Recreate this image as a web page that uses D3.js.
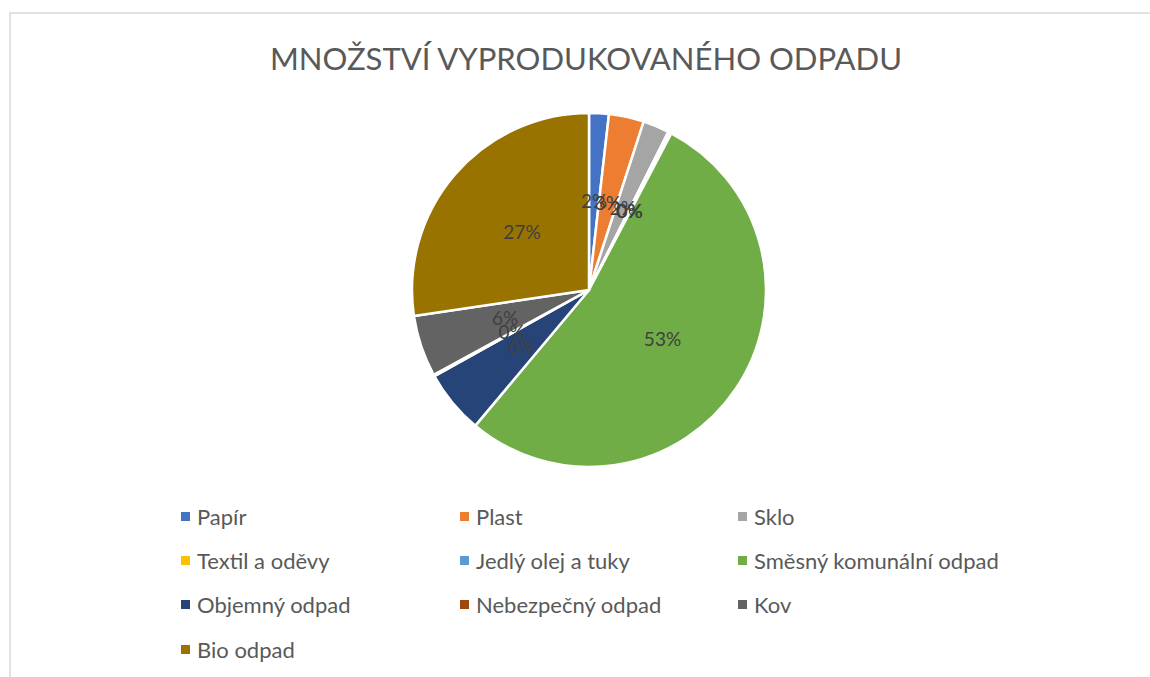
<!DOCTYPE html>
<html>
<head>
<meta charset="utf-8">
<script src="https://cdn.jsdelivr.net/npm/d3@7"></script>
<style>
  html, body { margin: 0; padding: 0; background: #fff; }
  svg { display: block; font-family: Lato, "Open Sans", sans-serif; }
</style>
</head>
<body>
<div id="chart"></div>
<script>
const width = 1150;
const height = 677;

const title = 'MNOŽSTVÍ VYPRODUKOVANÉHO ODPADU';
const categories = ['Papír', 'Plast', 'Sklo', 'Textil a oděvy', 'Jedlý olej a tuky',
    'Směsný komunální odpad', 'Objemný odpad', 'Nebezpečný odpad', 'Kov', 'Bio odpad'];
const values = [1.8, 3.2, 2.4, 0.15, 0.15, 53.4, 5.8, 0.15, 5.6, 27.35];
const colors = ['#4472C4', '#ED7D31', '#A5A5A5', '#FFC000', '#5B9BD5',
    '#70AD47', '#264478', '#9E480E', '#636363', '#997300'];

const data = categories.map((name, i) => ({ name, value: values[i], color: colors[i] }));
const total = d3.sum(values);

const svg = d3.select('#chart').append('svg')
    .attr('width', width)
    .attr('height', height);

// chart frame (runs off the right and bottom edge)
svg.append('rect')
    .attr('x', 10)
    .attr('y', 13)
    .attr('width', width + 20)
    .attr('height', height + 20)
    .attr('fill', 'none')
    .attr('stroke', '#d9d9d9')
    .attr('stroke-width', 1.5);

svg.append('text')
    .attr('x', 586)
    .attr('y', 70)
    .attr('text-anchor', 'middle')
    .attr('font-size', '31px')
    .attr('fill', '#595959')
    .attr('textLength', 632)
    .attr('lengthAdjust', 'spacingAndGlyphs')
    .text(title);

const cx = 589;
const cy = 290;
const radius = 177;

const pie = d3.pie().sort(null).value(d => d.value);
const arc = d3.arc().innerRadius(0).outerRadius(radius);
const labelArc = d3.arc().innerRadius(radius * 0.5).outerRadius(radius * 0.5);

const g = svg.append('g').attr('transform', `translate(${cx}, ${cy})`);
const arcs = pie(data);

g.selectAll('path')
    .data(arcs)
    .enter().append('path')
    .attr('d', arc)
    .attr('fill', d => d.data.color)
    .attr('stroke', '#fff')
    .attr('stroke-width', 2.5)
    .attr('stroke-linejoin', 'round');

const fmt = d3.format('.0%');
g.selectAll('.label')
    .data(arcs)
    .enter().append('text')
    .attr('class', 'label')
    .attr('transform', d => `translate(${labelArc.centroid(d)})`)
    .attr('text-anchor', 'middle')
    .attr('dy', '0.35em')
    .attr('font-size', '19px')
    .attr('fill', '#404040')
    .text(d => fmt(d.data.value / total));

// legend, three columns
const colX = [181, 460, 738];
const rowY = [517, 561, 605, 650];
const legend = svg.selectAll('.legend')
    .data(data)
    .enter().append('g')
    .attr('class', 'legend')
    .attr('transform', (d, i) => `translate(${colX[i % 3]}, ${rowY[Math.floor(i / 3)]})`);

legend.append('rect')
    .attr('x', 0)
    .attr('y', -5)
    .attr('width', 9)
    .attr('height', 9)
    .attr('fill', d => d.color);

legend.append('text')
    .attr('x', 16)
    .attr('y', 0)
    .attr('dy', '0.35em')
    .attr('font-size', '22px')
    .attr('fill', '#595959')
    .text(d => d.name);
</script>
</body>
</html>
